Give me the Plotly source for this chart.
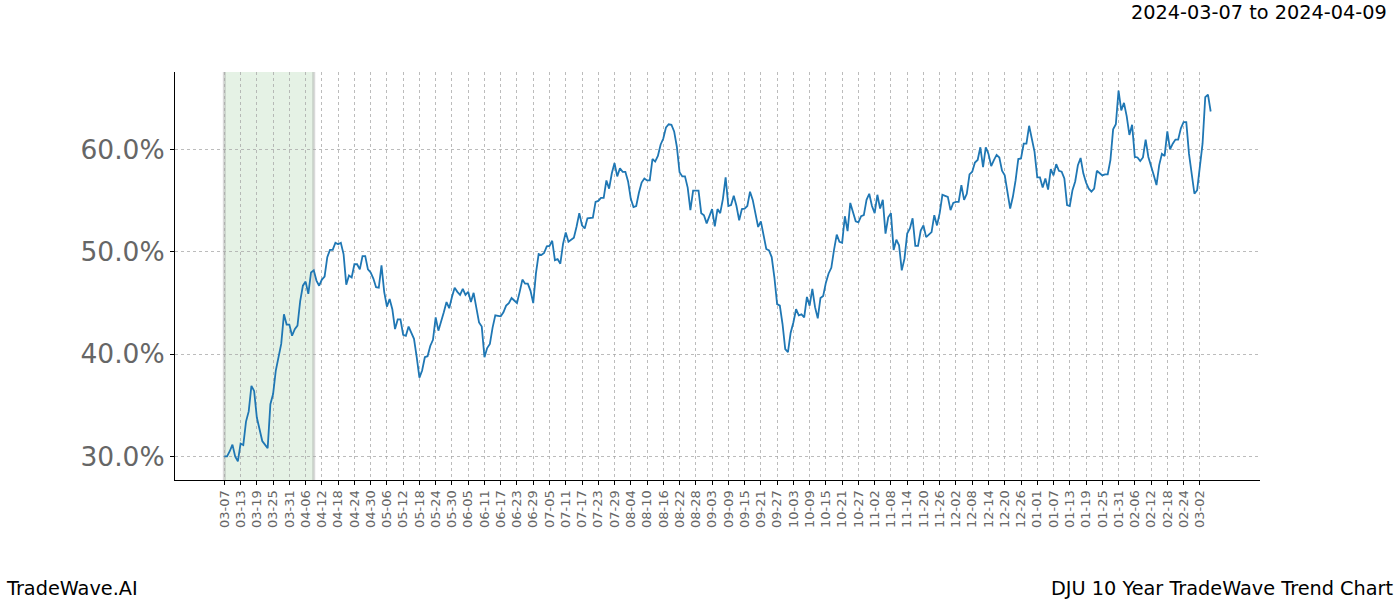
import pandas as pd
import plotly.graph_objects as go

start_date = "2024-03-07"
highlight_start = "2024-03-07"
highlight_end = "2024-04-09"
last_tick = "2025-03-02"
title_text = "2024-03-07 to 2024-04-09"
footer_left = "TradeWave.AI"
footer_right = "DJU 10 Year TradeWave Trend Chart"

# daily trend values (%) from 2024-03-07
values = [
    30.0, 30.0, 30.5, 31.15, 30.0, 29.5, 31.25, 31.1, 33.4, 34.4,
    36.9, 36.4, 33.8, 32.5, 31.5, 31.15, 30.8, 35.1, 36.1, 38.4,
    39.7, 41.0, 43.9, 42.9, 42.9, 41.8, 42.45, 42.8, 45.2, 46.7,
    47.1, 45.9, 48.0, 48.2, 47.2, 46.7, 47.3, 47.6, 49.5, 50.2,
    50.2, 50.9, 50.75, 50.9, 49.8, 46.8, 47.7, 47.5, 48.8, 48.8,
    48.3, 49.6, 49.6, 48.3, 48.0, 47.4, 46.55, 46.5, 48.7, 46.1,
    44.65, 45.4, 44.4, 42.45, 43.4, 43.4, 41.9, 41.8, 42.7, 42.0,
    41.5, 39.7, 37.7, 38.4, 39.7, 39.8, 40.8, 41.4, 43.6, 42.3,
    43.1, 44.1, 45.1, 44.5, 45.6, 46.5, 46.1, 45.8, 46.4, 45.8,
    46.1, 45.1, 46.0, 44.4, 43.1, 42.7, 39.7, 40.6, 41.0, 42.6,
    43.8, 43.75, 43.7, 44.1, 44.75, 45.0, 45.5, 45.25, 45.0, 46.1,
    47.3, 46.9, 46.9, 46.2, 45.0, 47.9, 49.8, 49.7, 49.9, 50.55,
    50.6, 51.1, 49.2, 49.3, 48.85, 50.8, 51.9, 51.0, 51.2, 51.4,
    52.5, 53.8, 52.6, 52.3, 53.3, 53.3, 53.35, 54.9, 55.0, 55.3,
    55.3, 57.0, 56.2, 57.7, 58.7, 57.4, 58.2, 57.85, 57.85, 56.9,
    55.2, 54.4, 54.5, 55.8, 56.8, 57.2, 57.0, 57.0, 59.1, 58.85,
    59.4, 60.5, 61.1, 62.2, 62.5, 62.45, 61.8, 60.3, 57.8, 57.4,
    57.4, 56.3, 54.1, 56.0, 56.0, 56.0, 53.8, 53.6, 52.8, 53.6,
    54.2, 52.5, 54.2, 53.8, 55.2, 57.3, 54.5, 54.6, 55.5, 54.5,
    53.1, 54.2, 54.25, 54.5, 55.9, 55.1, 53.8, 52.45, 53.0, 51.6,
    50.3, 50.15, 49.5, 47.5, 44.9, 44.75, 42.95, 40.5, 40.2, 42.1,
    43.1, 44.4, 43.8, 43.9, 43.6, 45.6, 44.75, 46.4, 44.6, 43.5,
    45.5, 45.7, 47.0, 47.9, 48.45, 50.2, 51.7, 51.0, 50.9, 53.5,
    52.05, 54.8, 54.0, 53.0, 52.9, 53.5, 53.6, 55.1, 55.7, 54.5,
    53.8, 55.6, 54.25, 55.1, 51.8, 53.4, 53.8, 50.2, 51.2, 50.65,
    48.2, 49.35, 51.8, 52.3, 53.3, 50.6, 50.6, 52.1, 52.6, 51.45,
    51.7, 51.95, 53.6, 52.6, 53.8, 55.6, 55.5, 55.4, 54.1, 54.8,
    54.9, 54.9, 56.55, 55.1, 55.7, 57.6, 57.85, 58.75, 59.0, 60.25,
    58.3, 60.25, 59.6, 58.4, 59.0, 59.5, 59.25, 57.95, 57.5, 55.7,
    54.25, 55.4, 57.0, 59.1, 59.15, 60.6, 60.6, 62.35, 61.0, 59.8,
    57.3, 57.3, 56.3, 57.2, 56.1, 58.1, 57.5, 58.6, 57.95, 57.85,
    57.2, 54.6, 54.5, 56.05, 56.9, 58.5, 59.2, 57.7, 56.8, 56.2,
    55.9, 56.2, 57.95, 57.7, 57.5, 57.6, 57.6, 59.0, 62.0, 62.5,
    65.8, 63.85, 64.6, 63.3, 61.45, 62.45, 59.3, 59.25, 58.9, 59.25,
    61.0, 59.3, 58.5, 57.5, 56.55, 58.5, 59.6, 59.4, 61.8, 60.05,
    60.6, 61.0, 61.0, 62.1, 62.7, 62.7, 59.6, 57.35, 55.7, 56.05,
    58.5, 60.6, 65.15, 65.4, 63.75,
]

y_ticks = [30, 40, 50, 60]
y_tick_labels = ["30.0%", "40.0%", "50.0%", "60.0%"]

dates = pd.date_range(start_date, periods=len(values), freq="D")
x_ticks = pd.date_range(start_date, last_tick, freq="6D")
x_tick_labels = [d.strftime("%m-%d") for d in x_ticks]

span_days = (dates[-1] - dates[0]).days
pad = pd.Timedelta(days=span_days * 0.05)
x_range = [dates[0] - pad, dates[-1] + pad]
vmin, vmax = min(values), max(values)
ypad = (vmax - vmin) * 0.05
y_range = [vmin - ypad, vmax + ypad]

fig = go.Figure()

fig.add_shape(
    type="rect", xref="x", yref="paper",
    x0=highlight_start, x1=highlight_end, y0=0, y1=1,
    fillcolor="rgba(0,128,0,0.1)", line=dict(width=0),
    layer="below",
)
for edge in (highlight_start, highlight_end):
    fig.add_shape(
        type="line", xref="x", yref="paper",
        x0=edge, x1=edge, y0=0, y1=1,
        line=dict(color="rgba(128,128,128,0.3)", width=3),
        layer="below",
    )

fig.add_trace(go.Scatter(
    x=dates, y=values, mode="lines",
    line=dict(color="#1f77b4", width=1.8),
    hoverinfo="skip", showlegend=False,
))

grid_color = "rgba(165,165,165,0.75)"
fig.update_xaxes(
    type="date",
    range=x_range,
    tickmode="array",
    tickvals=x_ticks,
    ticktext=x_tick_labels,
    tickangle=-90,
    tickfont=dict(family="DejaVu Sans", size=13, color="#666666"),
    ticks="outside", ticklen=4, tickcolor="black",
    showgrid=True, gridcolor=grid_color, griddash="dot", gridwidth=0.6,
    showline=True, linecolor="black", linewidth=1.2,
    zeroline=False,
)
fig.update_yaxes(
    range=y_range,
    tickmode="array",
    tickvals=y_ticks,
    ticktext=y_tick_labels,
    tickfont=dict(family="DejaVu Sans", size=26.5, color="#666666"),
    ticks="outside", ticklen=4, tickcolor="black",
    showgrid=True, gridcolor=grid_color, griddash="dot", gridwidth=0.6,
    showline=True, linecolor="black", linewidth=1.2,
    zeroline=False,
)

txt_font = dict(family="DejaVu Sans", size=19.3, color="black")
fig.update_layout(
    width=1400, height=600,
    margin=dict(l=175, r=140, t=72, b=120),
    plot_bgcolor="white", paper_bgcolor="white",
    font=dict(family="DejaVu Sans"),
    annotations=[
        dict(text=title_text, xref="paper", yref="paper", x=1.119, y=1.0,
             xanchor="right", yanchor="middle", yshift=60, showarrow=False,
             font=txt_font),
        dict(text=footer_left, xref="paper", yref="paper", x=-0.1576, y=0,
             xanchor="left", yanchor="middle", yshift=-108, showarrow=False,
             font=txt_font),
        dict(text=footer_right, xref="paper", yref="paper", x=1.1254, y=0,
             xanchor="right", yanchor="middle", yshift=-108, showarrow=False,
             font=txt_font),
    ],
)

fig.write_html("out.html")
